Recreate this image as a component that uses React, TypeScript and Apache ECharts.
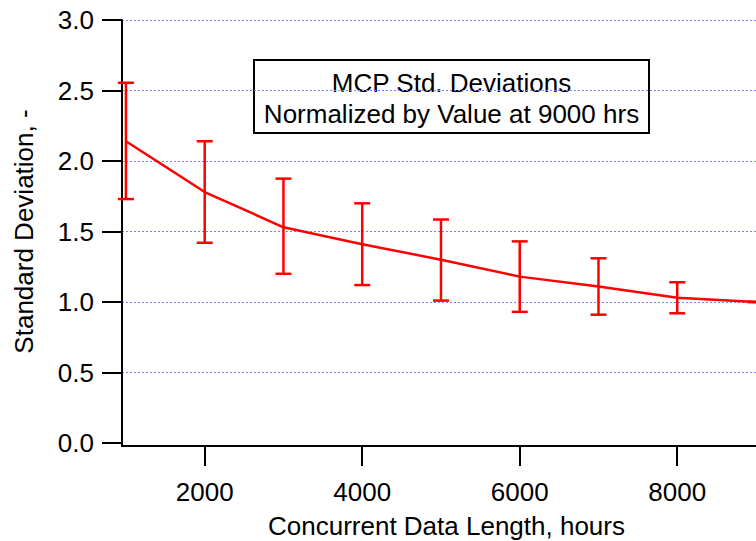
import React, { useEffect, useRef } from "react";
import * as echarts from "echarts";

const hours = [1000, 2000, 3000, 4000, 5000, 6000, 7000, 8000, 9000];
const meanValues = [2.14, 1.78, 1.53, 1.41, 1.30, 1.18, 1.11, 1.03, 1.0];
const lowValues = [1.73, 1.42, 1.20, 1.12, 1.01, 0.93, 0.91, 0.92, 1.0];
const highValues = [2.555, 2.14, 1.875, 1.70, 1.585, 1.43, 1.31, 1.14, 1.0];
const xTickValues = [2000, 4000, 6000, 8000];
const titleLines = ["MCP Std. Deviations", "Normalized by Value at 9000 hrs"];
const xAxisTitle = "Concurrent Data Length, hours";
const yAxisTitle = "Standard Deviation, -";

const FONT = "'Liberation Sans', Arial, Helvetica, sans-serif";
const X_OFFSET = 3;
const TICK_LEN = 20;

export default function App() {
  const ref = useRef<HTMLDivElement>(null);
  useEffect(() => {
    if (!ref.current) return;
    const chart = echarts.init(ref.current, null, { renderer: "svg" });
    const lineData = hours.map((h, i) => [h, meanValues[i]]);
    const errData = hours.map((h, i) => [h, lowValues[i], highValues[i]]);
    const tickData = xTickValues.map((v) => [v, 0]);
    chart.setOption({
      animation: false,
      backgroundColor: "#ffffff",
      grid: {
        left: 122,
        right: 0,
        top: 20,
        bottom: 98,
        containLabel: false,
        outerBoundsMode: "none",
      },
      xAxis: {
        type: "value",
        min: 950,
        max: 9000,
        offset: X_OFFSET,
        name: xAxisTitle,
        nameLocation: "middle",
        nameGap: 67,
        nameTextStyle: { fontSize: 26, fontFamily: FONT, color: "#000", padding: [0, 0, 0, 15] },
        axisLine: { show: true, onZero: false, lineStyle: { color: "#000", width: 2 } },
        axisTick: { show: false },
        axisLabel: {
          fontSize: 26,
          fontFamily: FONT,
          color: "#000",
          margin: 33,
          customValues: xTickValues,
          formatter: (v: number) => String(v),
        },
        splitLine: { show: false },
      },
      yAxis: {
        type: "value",
        min: 0,
        max: 3,
        interval: 0.5,
        name: yAxisTitle,
        nameLocation: "middle",
        nameGap: 85,
        nameTextStyle: { fontSize: 26, fontFamily: FONT, color: "#000" },
        axisLine: { show: true, onZero: false, lineStyle: { color: "#000", width: 2 } },
        axisTick: { show: true, inside: false, length: TICK_LEN, lineStyle: { color: "#000", width: 2 } },
        axisLabel: {
          fontSize: 26,
          fontFamily: FONT,
          color: "#000",
          margin: 28,
          formatter: (v: number) => v.toFixed(1),
        },
        splitLine: {
          show: true,
          showMinLine: false,
          lineStyle: { color: "#8080ff", width: 1, type: [2, 2] },
        },
      },
      graphic: [
        {
          type: "line",
          shape: { x1: 122, y1: 442, x2: 122, y2: 447 },
          style: { stroke: "#000", lineWidth: 2 },
          z: 5,
        },
        {
          type: "group",
          z: 100,
          children: [
            {
              type: "rect",
              shape: { x: 254, y: 60, width: 395, height: 73 },
              style: { fill: "#fff", stroke: "#000", lineWidth: 2 },
            },
            {
              type: "text",
              style: {
                text: titleLines[0],
                x: 451.5,
                y: 83,
                align: "center",
                verticalAlign: "middle",
                fontSize: 26,
                fontFamily: FONT,
                fill: "#000",
              },
            },
            {
              type: "text",
              style: {
                text: titleLines[1],
                x: 451.5,
                y: 114,
                align: "center",
                verticalAlign: "middle",
                fontSize: 26,
                fontFamily: FONT,
                fill: "#000",
              },
            },
          ],
        },
      ],
      series: [
        {
          type: "line",
          data: lineData,
          symbol: "none",
          lineStyle: { color: "#ff0000", width: 2.5 },
          z: 3,
        },
        {
          type: "custom",
          data: errData,
          encode: { x: 0, y: [1, 2] },
          clip: false,
          z: 4,
          renderItem: (_params: any, api: any) => {
            const x = api.value(0);
            const lo = api.coord([x, api.value(1)]);
            const hi = api.coord([x, api.value(2)]);
            const hw = 8;
            const st = { stroke: "#ff0000", lineWidth: 2.5 };
            return {
              type: "group",
              children: [
                { type: "line", shape: { x1: lo[0], y1: lo[1], x2: hi[0], y2: hi[1] }, style: st },
                { type: "line", shape: { x1: lo[0] - hw, y1: lo[1], x2: lo[0] + hw, y2: lo[1] }, style: st },
                { type: "line", shape: { x1: hi[0] - hw, y1: hi[1], x2: hi[0] + hw, y2: hi[1] }, style: st },
              ],
            };
          },
        },
        {
          type: "custom",
          data: tickData,
          encode: { x: 0, y: 1 },
          clip: false,
          silent: true,
          z: 5,
          renderItem: (_params: any, api: any) => {
            const p = api.coord([api.value(0), api.value(1)]);
            const y0 = Math.round(p[1]) + X_OFFSET;
            const x0 = Math.round(p[0]);
            return {
              type: "line",
              shape: { x1: x0, y1: y0, x2: x0, y2: y0 + TICK_LEN },
              style: { stroke: "#000", lineWidth: 2 },
            };
          },
        },
      ],
    });
    return () => chart.dispose();
  }, []);
  return (
    <div
      ref={ref}
      style={{ position: "absolute", left: 0, top: 0, width: 756, height: 541, background: "#fff" }}
    />
  );
}
